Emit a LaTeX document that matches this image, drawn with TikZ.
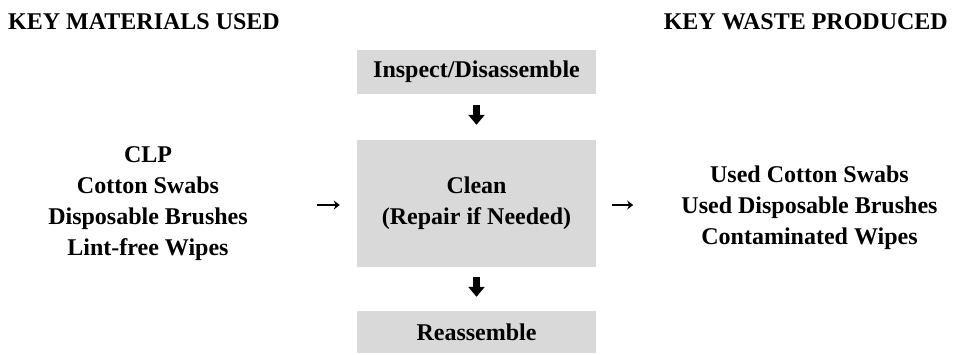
\documentclass[tikz,border=0pt]{standalone}
\usepackage{fontspec}
\setmainfont{Liberation Serif}
\usetikzlibrary{arrows.meta}
\begin{document}
\begin{tikzpicture}[x=1pt, y=-1pt,
  txt/.style={font=\fontsize{24}{31}\selectfont\bfseries, inner sep=0pt, align=center},
  stepbox/.style={txt, fill=black!15, minimum width=239pt},
  flowdown/.style={line width=7pt, -{Triangle[length=10pt,width=16pt]}},
  flowside/.style={line width=1.3pt, -{Stealth[length=6pt,width=9pt]}}]
  \useasboundingbox (0,0) rectangle (958,354);

  % column headings
  \node[txt, anchor=base west] (mat) at (8,29) {KEY MATERIALS USED};
  \node[txt, anchor=base east] (waste) at (948,29) {KEY WASTE PRODUCED};

  % process steps
  \node[stepbox, minimum height=44pt] (inspect) at (476.5,72) {Inspect/Disassemble};
  \node[stepbox, minimum height=127pt] (clean) at (476.5,203.5) {Clean\\(Repair if Needed)};
  \node[stepbox, minimum height=42pt] (reassemble) at (476.5,332) {Reassemble};

  % inputs and outputs
  \node[txt] (inputs) at (148,204) {CLP\\Cotton Swabs\\Disposable Brushes\\Lint-free Wipes};
  \node[txt] (outputs) at (809.5,208) {Used Cotton Swabs\\Used Disposable Brushes\\Contaminated Wipes};

  % flow arrows
  \draw[flowdown] ([yshift=-11pt]inspect.south) -- ([yshift=15pt]clean.north);
  \draw[flowdown] ([yshift=-10pt]clean.south) -- ([yshift=14pt]reassemble.north);
  \draw[flowside] ([xshift=-40pt,yshift=-1.5pt]clean.west) -- ([xshift=-17pt,yshift=-1.5pt]clean.west);
  \draw[flowside] ([xshift=16pt,yshift=-1.5pt]clean.east) -- ([xshift=37pt,yshift=-1.5pt]clean.east);
\end{tikzpicture}
\end{document}
